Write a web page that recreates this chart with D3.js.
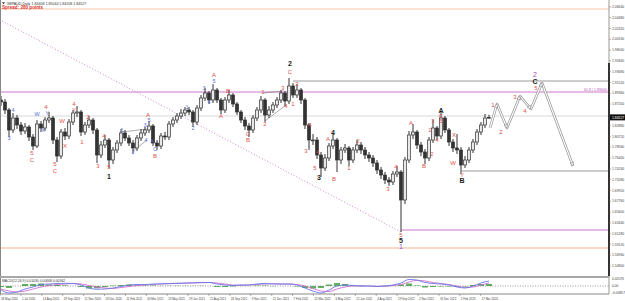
<!DOCTYPE html>
<html>
<head>
<meta charset="utf-8">
<script src="https://cdn.jsdelivr.net/npm/d3@7"></script>
<style>
body{margin:0;background:#fff}
svg{display:block;font-family:"Liberation Sans",Arial,sans-serif}
</style>
</head>
<body>
<svg width="625" height="301"></svg>
<script>
// GBPAUD daily, one candle per ~6 sessions
const closes = [
 1.876,1.860,1.820,1.844,1.830,1.818,1.826,1.806,1.788,1.832,
 1.824,1.840,1.844,1.800,1.768,1.816,1.808,1.836,1.854,1.856,
 1.816,1.830,1.840,1.820,1.770,1.790,1.800,1.760,1.780,1.794,
 1.814,1.804,1.794,1.784,1.804,1.814,1.820,1.828,1.794,1.788,
 1.808,1.806,1.832,1.840,1.848,1.854,1.860,1.856,1.836,1.864,
 1.884,1.894,1.880,1.900,1.880,1.860,1.880,1.890,1.872,1.856,
 1.840,1.828,1.820,1.844,1.860,1.880,1.850,1.860,1.870,1.880,
 1.894,1.878,1.908,1.890,1.900,1.880,1.830,1.800,1.800,1.770,
 1.744,1.764,1.788,1.800,1.760,1.780,1.784,1.760,1.780,1.790,
 1.780,1.770,1.764,1.754,1.740,1.730,1.720,1.716,1.732,1.736,
 1.680,1.760,1.810,1.816,1.790,1.776,1.764,1.800,1.824,1.808,
 1.844,1.820,1.796,1.784,1.780,1.750,1.760,1.780,1.796,1.816,
 1.830,1.844,1.84527];
const highs = [
 1.888,1.882,1.864,1.854,1.850,1.836,1.834,1.830,1.812,1.840,
 1.838,1.846,1.856,1.848,1.806,1.822,1.824,1.842,1.860,1.868,
 1.860,1.836,1.848,1.844,1.824,1.798,1.810,1.804,1.786,1.800,
 1.822,1.820,1.810,1.800,1.810,1.822,1.826,1.838,1.832,1.800,
 1.814,1.816,1.838,1.846,1.854,1.862,1.866,1.866,1.860,1.870,
 1.890,1.904,1.898,1.912,1.904,1.884,1.886,1.900,1.894,1.876,
 1.860,1.846,1.834,1.850,1.866,1.888,1.884,1.868,1.876,1.886,
 1.900,1.898,1.924,1.914,1.912,1.904,1.884,1.834,1.812,1.806,
 1.776,1.772,1.794,1.812,1.804,1.786,1.792,1.788,1.786,1.800,
 1.796,1.786,1.776,1.770,1.760,1.746,1.736,1.726,1.738,1.748,
 1.740,1.766,1.818,1.832,1.820,1.796,1.782,1.806,1.840,1.828,
 1.856,1.848,1.824,1.802,1.812,1.786,1.768,1.786,1.802,1.822,
 1.836,1.852,1.85044];
const lows = [
 1.868,1.852,1.806,1.814,1.822,1.810,1.812,1.798,1.780,1.784,
 1.816,1.818,1.834,1.792,1.756,1.762,1.800,1.802,1.830,1.846,
 1.808,1.810,1.824,1.812,1.754,1.764,1.784,1.744,1.752,1.774,
 1.788,1.798,1.788,1.774,1.778,1.798,1.808,1.814,1.788,1.780,
 1.782,1.800,1.800,1.826,1.834,1.842,1.848,1.850,1.826,1.830,
 1.858,1.878,1.872,1.874,1.874,1.852,1.854,1.874,1.866,1.850,
 1.834,1.820,1.806,1.814,1.838,1.854,1.836,1.844,1.854,1.864,
 1.874,1.868,1.872,1.884,1.884,1.872,1.822,1.780,1.790,1.762,
 1.726,1.738,1.758,1.782,1.736,1.752,1.774,1.748,1.754,1.774,
 1.772,1.762,1.756,1.746,1.732,1.722,1.712,1.708,1.710,1.726,
 1.616,1.672,1.754,1.802,1.782,1.768,1.752,1.758,1.794,1.800,
 1.802,1.814,1.788,1.776,1.772,1.732,1.744,1.754,1.774,1.790,
 1.810,1.824,1.84208];
const firstOpen = 1.880;

const priceTicks = [2.0664,2.0448,2.0232,2.0016,1.9800,1.9584,1.9368,1.9152,1.8936,1.8720,
  1.8288,1.8072,1.7856,1.7640,1.7424,1.7208,1.6992,1.6776,1.6560,1.6344,1.6128,1.5912,1.5696,1.5480];
const dateLabels = ['28 May 2020','1 Jul 2020','14 Aug 2020','29 Sep 2020','11 Nov 2020','23 Dec 2020',
  '11 Feb 2021','30 Mar 2021','13 May 2021','29 Jun 2021','11 Aug 2021','24 Sep 2021','9 Nov 2021',
  '21 Dec 2021','7 Feb 2022','22 Mar 2022','6 May 2022','21 Jun 2022','4 Aug 2022','19 Sep 2022',
  '2 Nov 2022','16 Dec 2022','2 Feb 2023','17 Mar 2023'];

// projected path (bar index, price)
const projIdx = [122.25,124,126.5,129.75,132.5,135.25,143];
const projPrice = [1.824,1.872,1.824,1.888,1.862,1.914,1.748];

// wave counts: [bar index, price, label, degree]
const waves = [
 [2,1.802,'3','b'],[3,1.858,'4','b'],[7.75,1.774,'5','r'],[7.75,1.760,'C','r'],
 [9,1.850,'W','b'],[10.5,1.818,'X','b'],[11.5,1.852,'Y','b'],[11.25,1.866,'4','r'],
 [13.5,1.752,'5','r'],[13.5,1.738,'C','r'],[15.25,1.838,'W','r'],[16,1.788,'X','r'],
 [18.25,1.872,'4','r'],[18.25,1.860,'Y','r'],[20.25,1.796,'1','r'],[21.75,1.846,'2','r'],
 [24.25,1.748,'3','r'],[25.75,1.808,'4','r'],[27,1.746,'5','r'],[27,1.726,'1','k'],
 [30.25,1.818,'1','b'],[33,1.774,'2','b'],[36,1.828,'3','b'],[36.25,1.798,'4','b'],
 [37,1.838,'5','b'],[36.75,1.850,'A','r'],[37.75,1.796,'A','b'],[38.5,1.780,'C','b'],[38.5,1.768,'B','r'],
 [46.5,1.864,'1','b'],[48,1.822,'2','b'],[50.75,1.902,'3','b'],[52,1.874,'4','b'],
 [53.25,1.916,'5','b'],[53.25,1.930,'A','r'],[55,1.848,'A','r'],[56.75,1.898,'B','r'],
 [61.75,1.812,'C','r'],[61.75,1.800,'B','r'],
 [65.5,1.896,'1','r'],[66,1.832,'2','r'],[70.5,1.904,'3','r'],[71.25,1.868,'4','r'],
 [72.25,1.936,'C','r'],[72.25,1.952,'2','k'],[73,1.872,'1','r'],[74,1.912,'2','r'],
 [76.25,1.778,'3','r'],[77.25,1.830,'4','r'],[78.5,1.744,'5','r'],[79.25,1.776,'4','r'],[79.5,1.724,'3','k'],
 [81.75,1.802,'A','r'],[83,1.814,'4','k'],[83.25,1.722,'B','r'],
 [87,1.744,'1','r'],[89.25,1.798,'2','r'],[96.75,1.702,'3','r'],[98.75,1.746,'4','r'],
 [100,1.610,'5','r'],[100,1.598,'5','k'],[100,1.586,'1','p'],
 [102.5,1.834,'A','r'],[105.75,1.748,'B','r'],[107.25,1.820,'1','r'],[107.75,1.772,'2','r'],
 [108,1.838,'3','r'],[109,1.800,'4','r'],[110,1.858,'A','k'],[110,1.847,'C','r'],[110,1.838,'5','r'],
 [113.25,1.810,'X','r'],[113,1.754,'W','r'],[115.25,1.730,'Y','r'],[115.25,1.718,'B','k'],
 [123,1.870,'1','r'],[125,1.816,'2','r'],[128.5,1.886,'3','r'],[131,1.858,'4','r'],
 [133.75,1.904,'5','r'],[133.5,1.916,'C','k'],[133.5,1.929,'2','p']];

// horizontal levels: [price, from bar index, kind]
const levels = [[2.062,-1,'orange'],[1.584,-1,'orangeBand'],[1.896,-1,'fib'],[1.848,-1,'light'],
  [1.918,73,'gray'],[1.738,115.25,'gray'],[1.620,100,'fib']];
const diagIdx = [0.25,100], diagPrice = [2.038,1.616];
const trendLines = [[30.25,1.816,36.5,1.822],[33,1.778,36.5,1.800],[65.5,1.894,70.5,1.898],[66,1.838,71.25,1.870]];

// oscillator, every second bar
const oscMain = [-0.008,-0.014,-0.012,-0.006,-0.002,0.003,0.004,0.005,0.0054,0.005,
  0.002,-0.004,-0.0066,-0.006,-0.004,-0.001,0.002,0.003,0.003,0.004,
  0.0044,0.005,0.0056,0.006,0.0064,0.007,0.007,0.004,0.002,0.001,
  0.002,0.002,0.004,0.005,0.004,0.004,0.004,0.002,-0.004,-0.010,
  -0.014,-0.008,0,0.002,0.001,0,0,-0.001,0,0.002,
  0.006,0.013,0.012,0.007,0.005,0.004,0.002,-0.002,-0.004,0,
  0.006,0.010];
const oscSignal = [-0.006,-0.010,-0.012,-0.010,-0.006,-0.002,0.001,0.003,0.004,0.005,
  0.004,0.001,-0.002,-0.004,-0.005,-0.003,-0.001,0.001,0.002,0.003,
  0.004,0.0045,0.005,0.0055,0.006,0.0065,0.007,0.006,0.004,0.002,
  0.0015,0.002,0.003,0.004,0.0045,0.004,0.004,0.003,0,-0.005,
  -0.010,-0.011,-0.006,-0.002,0,0.0005,0,-0.0005,-0.0005,0.001,
  0.003,0.008,0.011,0.010,0.007,0.005,0.003,0,-0.003,-0.002,
  0.002,0.006];
const oscHist = [-0.002,-0.004,0,0.004,0.004,0.005,0.003,0.002,0.0014,0,
  -0.002,-0.005,-0.0046,-0.002,0.001,0.002,0.003,0.002,0.001,0.001,
  0.0004,0.0005,0.0006,0.0005,0.0004,0.0005,0,-0.002,-0.002,-0.001,
  0.0005,0,0.001,0.001,-0.0005,0,0,-0.001,-0.004,-0.005,
  -0.004,0.003,0.006,0.004,0.001,-0.0005,0,-0.0005,0.0005,0.001,
  0.003,0.005,0.001,-0.003,-0.002,-0.001,-0.001,-0.002,-0.001,0.002,
  0.004,0.004];

const svg = d3.select('svg');
const W = 625, H = 301;
const plotRight = 609, mainBottom = 276, subTop = 278, subBottom = 294;

svg.append('rect').attr('width',W).attr('height',H).attr('fill','#fff');

const x = d3.scaleLinear().domain([0, closes.length-1]).range([1, 489]);
const y = d3.scaleLinear().domain([2.08, 1.528]).range([0, mainBottom]);
const yo = d3.scaleLinear().domain([-0.016, 0.018]).range([subBottom, subTop-1]);

svg.append('clipPath').attr('id','mainClip').append('rect')
  .attr('x',0).attr('y',0).attr('width',plotRight).attr('height',mainBottom);
const g = svg.append('g').attr('clip-path','url(#mainClip)');

// levels
const levelStyle = {
  orange:{stroke:'#f2c4a4',w:1},
  orangeBand:{stroke:'#f7d9c6',w:2.2},
  fib:{stroke:'#cc77cc',w:1},
  light:{stroke:'#d8d8d8',w:1},
  gray:{stroke:'#9a9a9a',w:1}
};
levels.forEach(l => {
  const s = levelStyle[l[2]];
  g.append('line')
    .attr('x1', l[1] < 0 ? 0 : x(l[1])).attr('x2', plotRight)
    .attr('y1', y(l[0])).attr('y2', y(l[0]))
    .attr('stroke', s.stroke).attr('stroke-width', s.w);
});
g.append('text').attr('x',607).attr('y',y(1.896)-1.5).attr('text-anchor','end')
  .attr('font-size',3.6).attr('fill','#bb55bb').text('61.8 | 1.89600');

g.append('line')
  .attr('x1',x(diagIdx[0])).attr('y1',y(diagPrice[0]))
  .attr('x2',x(diagIdx[1])).attr('y2',y(diagPrice[1]))
  .attr('stroke','#cc88cc').attr('stroke-width',1).attr('stroke-dasharray','1,2');

trendLines.forEach(t => {
  g.append('line').attr('x1',x(t[0])).attr('y1',y(t[1])).attr('x2',x(t[2])).attr('y2',y(t[3]))
    .attr('stroke','#777').attr('stroke-width',0.6);
});

// candles
const candles = closes.map((c,i) => ({i, o: i ? closes[i-1] : firstOpen, c, h: highs[i], l: lows[i]}));
const cg = g.append('g');
cg.selectAll('line.wick').data(candles).enter().append('line')
  .attr('x1',d=>x(d.i)).attr('x2',d=>x(d.i))
  .attr('y1',d=>y(d.h)).attr('y2',d=>y(d.l))
  .attr('stroke','#333').attr('stroke-width',1);
cg.selectAll('rect.body').data(candles).enter().append('rect')
  .attr('x',d=>x(d.i)-1.5).attr('width',3)
  .attr('y',d=>y(Math.max(d.o,d.c)))
  .attr('height',d=>Math.max(0.8, Math.abs(y(d.o)-y(d.c))))
  .attr('fill',d=> d.c >= d.o ? '#e8e8e8' : '#333')
  .attr('stroke','#333').attr('stroke-width',0.7);

// projection arrows
const proj = projIdx.map((v,i)=>[x(v), y(projPrice[i])]);
const line = d3.line();
g.append('path').attr('d',line(proj)).attr('fill','none')
  .attr('stroke','#9a9a9a').attr('stroke-width',2.6).attr('stroke-linejoin','round');
g.append('path').attr('d',line(proj)).attr('fill','none')
  .attr('stroke','#fff').attr('stroke-width',1.1).attr('stroke-linejoin','round');
for (let k = 1; k < proj.length; k++) {
  const [x0,y0] = proj[k-1], [x1,y1] = proj[k];
  const a = Math.atan2(y1-y0, x1-x0) * 180 / Math.PI;
  g.append('path').attr('d','M0,0L-3.5,-1.8L-3.5,1.8Z')
    .attr('transform',`translate(${x1},${y1}) rotate(${a})`)
    .attr('fill','#fff').attr('stroke','#888').attr('stroke-width',0.6);
}

// wave labels
const degree = {
  b:{fill:'#5b6bd6', size:5.5, weight:'normal'},
  r:{fill:'#e2504a', size:6, weight:'normal'},
  k:{fill:'#1a1a1a', size:7, weight:'bold'},
  p:{fill:'#a24cc2', size:7, weight:'normal'}
};
g.selectAll('text.wave').data(waves).enter().append('text')
  .attr('x',d=>x(d[0])).attr('y',d=>y(d[1]))
  .attr('text-anchor','middle').attr('dominant-baseline','middle')
  .attr('font-size',d=>degree[d[3]].size).attr('font-weight',d=>degree[d[3]].weight)
  .attr('fill',d=>degree[d[3]].fill).text(d=>d[2]);

// header texts
svg.append('path').attr('d','M2,2.2L5,2.2L3.5,4.2Z').attr('fill','#333');
svg.append('text').attr('x',6.5).attr('y',4.6).attr('font-size',3.6).attr('fill','#333')
  .text('GBPAUD,Daily  1.84408 1.85044 1.84208 1.84527');
svg.append('text').attr('x',2).attr('y',9).attr('font-size',4.6).attr('font-weight','bold')
  .attr('fill','#e0302a').text('Spread: 280 points');

// frames
svg.append('line').attr('x1',0.5).attr('x2',0.5).attr('y1',0).attr('y2',subBottom)
  .attr('stroke','#888').attr('stroke-width',1);
svg.append('line').attr('x1',plotRight).attr('x2',plotRight).attr('y1',0).attr('y2',subBottom)
  .attr('stroke','#999').attr('stroke-width',1);
svg.append('line').attr('x1',plotRight).attr('x2',plotRight).attr('y1',63).attr('y2',mainBottom)
  .attr('stroke','#333').attr('stroke-width',2);
svg.append('rect').attr('x',0).attr('y',mainBottom).attr('width',plotRight).attr('height',subTop-mainBottom)
  .attr('fill','#a8a8a8');
svg.append('line').attr('x1',0).attr('x2',plotRight).attr('y1',subBottom).attr('y2',subBottom)
  .attr('stroke','#888').attr('stroke-width',1);

// price axis
const axis = svg.append('g').attr('font-size',3.4).attr('fill','#444');
axis.selectAll('text').data(priceTicks).enter().append('text')
  .attr('x',612).attr('y',d=>y(d)+1.2).text(d=>d.toFixed(5));
axis.selectAll('line').data(priceTicks).enter().append('line')
  .attr('x1',plotRight).attr('x2',plotRight+2).attr('y1',d=>y(d)).attr('y2',d=>y(d))
  .attr('stroke','#666').attr('stroke-width',0.5);
const last = closes[closes.length-1];
svg.append('rect').attr('x',plotRight+1).attr('y',y(last)-3).attr('width',W-plotRight-1).attr('height',6)
  .attr('fill','#111');
svg.append('text').attr('x',612).attr('y',y(last)+1.3).attr('font-size',3.4).attr('fill','#fff')
  .text(last.toFixed(5));

// oscillator window
const og = svg.append('g');
og.append('text').attr('x',2).attr('y',subTop+4).attr('font-size',3.4).attr('fill','#333')
  .text('MACD(12,26,9) 0.01030 0.00668 0.00362');
og.append('line').attr('x1',0).attr('x2',plotRight).attr('y1',yo(0)).attr('y2',yo(0))
  .attr('stroke','#555').attr('stroke-width',0.6).attr('stroke-dasharray','1,1.5');
og.selectAll('rect').data(oscHist).enter().append('rect')
  .attr('x',(d,k)=>x(2*k)-3).attr('width',6)
  .attr('y',d=>Math.min(yo(d),yo(0))).attr('height',d=>Math.abs(yo(d)-yo(0)))
  .attr('fill','#3a9a3a').attr('opacity',0.8);
const oscLine = d3.line().x((d,k)=>x(2*k)).y(d=>yo(d)).curve(d3.curveMonotoneX);
og.append('path').attr('d',oscLine(oscSignal)).attr('fill','none').attr('stroke','#d070d0').attr('stroke-width',0.9);
og.append('path').attr('d',oscLine(oscMain)).attr('fill','none').attr('stroke','#6a78e8').attr('stroke-width',0.9);
og.append('text').attr('x',612).attr('y',subTop+2).attr('font-size',3.3).attr('fill','#444').text('0.02076');
og.append('text').attr('x',612).attr('y',yo(0)+1.2).attr('font-size',3.3).attr('fill','#444').text('0.00');
og.append('text').attr('x',612).attr('y',subBottom-0.5).attr('font-size',3.3).attr('fill','#444').text('-0.00857');

// date axis
const barsPerDateLabel = 5.225;
const dg = svg.append('g');
dateLabels.forEach((t,k) => {
  const xi = x(k*barsPerDateLabel - 0.25);
  dg.append('line').attr('x1',xi).attr('x2',xi).attr('y1',subBottom).attr('y2',subBottom+2)
    .attr('stroke','#666').attr('stroke-width',0.5);
  dg.append('text').attr('x',xi+1).attr('y',subBottom+5.5).attr('font-size',2.9).attr('fill','#444').text(t);
});
</script>
</body>
</html>
